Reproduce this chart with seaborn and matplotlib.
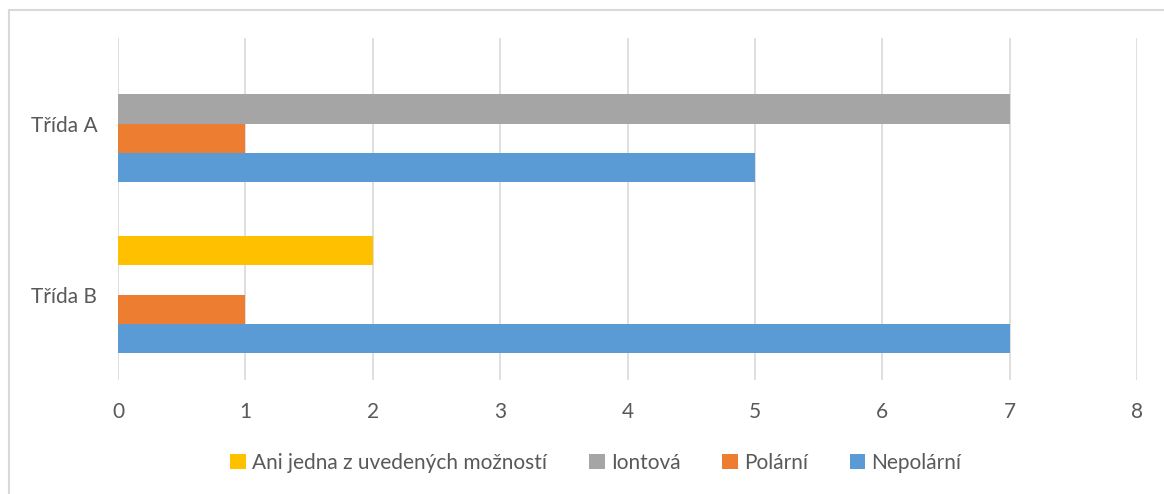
import matplotlib
matplotlib.use('Agg')
import matplotlib.pyplot as plt
import seaborn as sns
import pandas as pd
from matplotlib.lines import Line2D
from matplotlib.patches import Patch

# ── Données ──────────────────────────────────────────────────────────
classes = ['Třída A', 'Třída B']
series = ['Ani jedna z uvedených možností', 'Iontová', 'Polární', 'Nepolární']
ani_jedna = [0, 2]
iontova = [7, 0]
polarni = [1, 1]
nepolarni = [5, 7]
colors = ['#FFC000', '#A5A5A5', '#ED7D31', '#5B9BD5']

rows = []
for s, vals in zip(series, [ani_jedna, iontova, polarni, nepolarni]):
    for c, v in zip(classes, vals):
        rows.append({'Třída': c, 'Série': s, 'Hodnota': v})
df = pd.DataFrame(rows)

sns.set_theme(style='white')
plt.rcParams['font.family'] = ['Lato', 'DejaVu Sans']
txt = '#595959'

W, H = 1164, 494
fig = plt.figure(figsize=(W / 100, H / 100), dpi=100)
ax = fig.add_axes([118 / W, 1 - 380 / H, (1137 - 118) / W, (380 - 38) / H])

sns.barplot(data=df, x='Hodnota', y='Třída', hue='Série', order=classes,
            hue_order=series, palette=colors, orient='h', width=0.68,
            saturation=1, linewidth=0, ax=ax, legend=False)

ax.set_xlim(0, 8)
ax.set_xticks(range(0, 9))
ax.grid(axis='x', color='#D9D9D9', linewidth=1.2)
ax.set_axisbelow(True)
for sp in ax.spines.values():
    sp.set_visible(False)
ax.set_xlabel('')
ax.set_ylabel('')
ax.tick_params(axis='both', length=0, labelsize=15, colors=txt)
ax.tick_params(axis='x', pad=16)
ax.tick_params(axis='y', pad=15)

handles = [Patch(facecolor=c, edgecolor='none') for c in colors]
fig.legend(handles, series, loc='center', bbox_to_anchor=(596 / W, 1 - 463 / H),
           ncol=4, frameon=False, fontsize=15, labelcolor=txt,
           handlelength=0.75, handleheight=0.75, handletextpad=0.3,
           columnspacing=2.0)

# bordure du graphique (gauche + haut)
fig.add_artist(Line2D([8.5 / W, 8.5 / W], [0, 1 - 10.5 / H], transform=fig.transFigure,
                      color='#D9D9D9', linewidth=1.5))
fig.add_artist(Line2D([8.5 / W, 1], [1 - 10.5 / H, 1 - 10.5 / H], transform=fig.transFigure,
                      color='#D9D9D9', linewidth=1.5))

plt.savefig('out.png', dpi=100)
